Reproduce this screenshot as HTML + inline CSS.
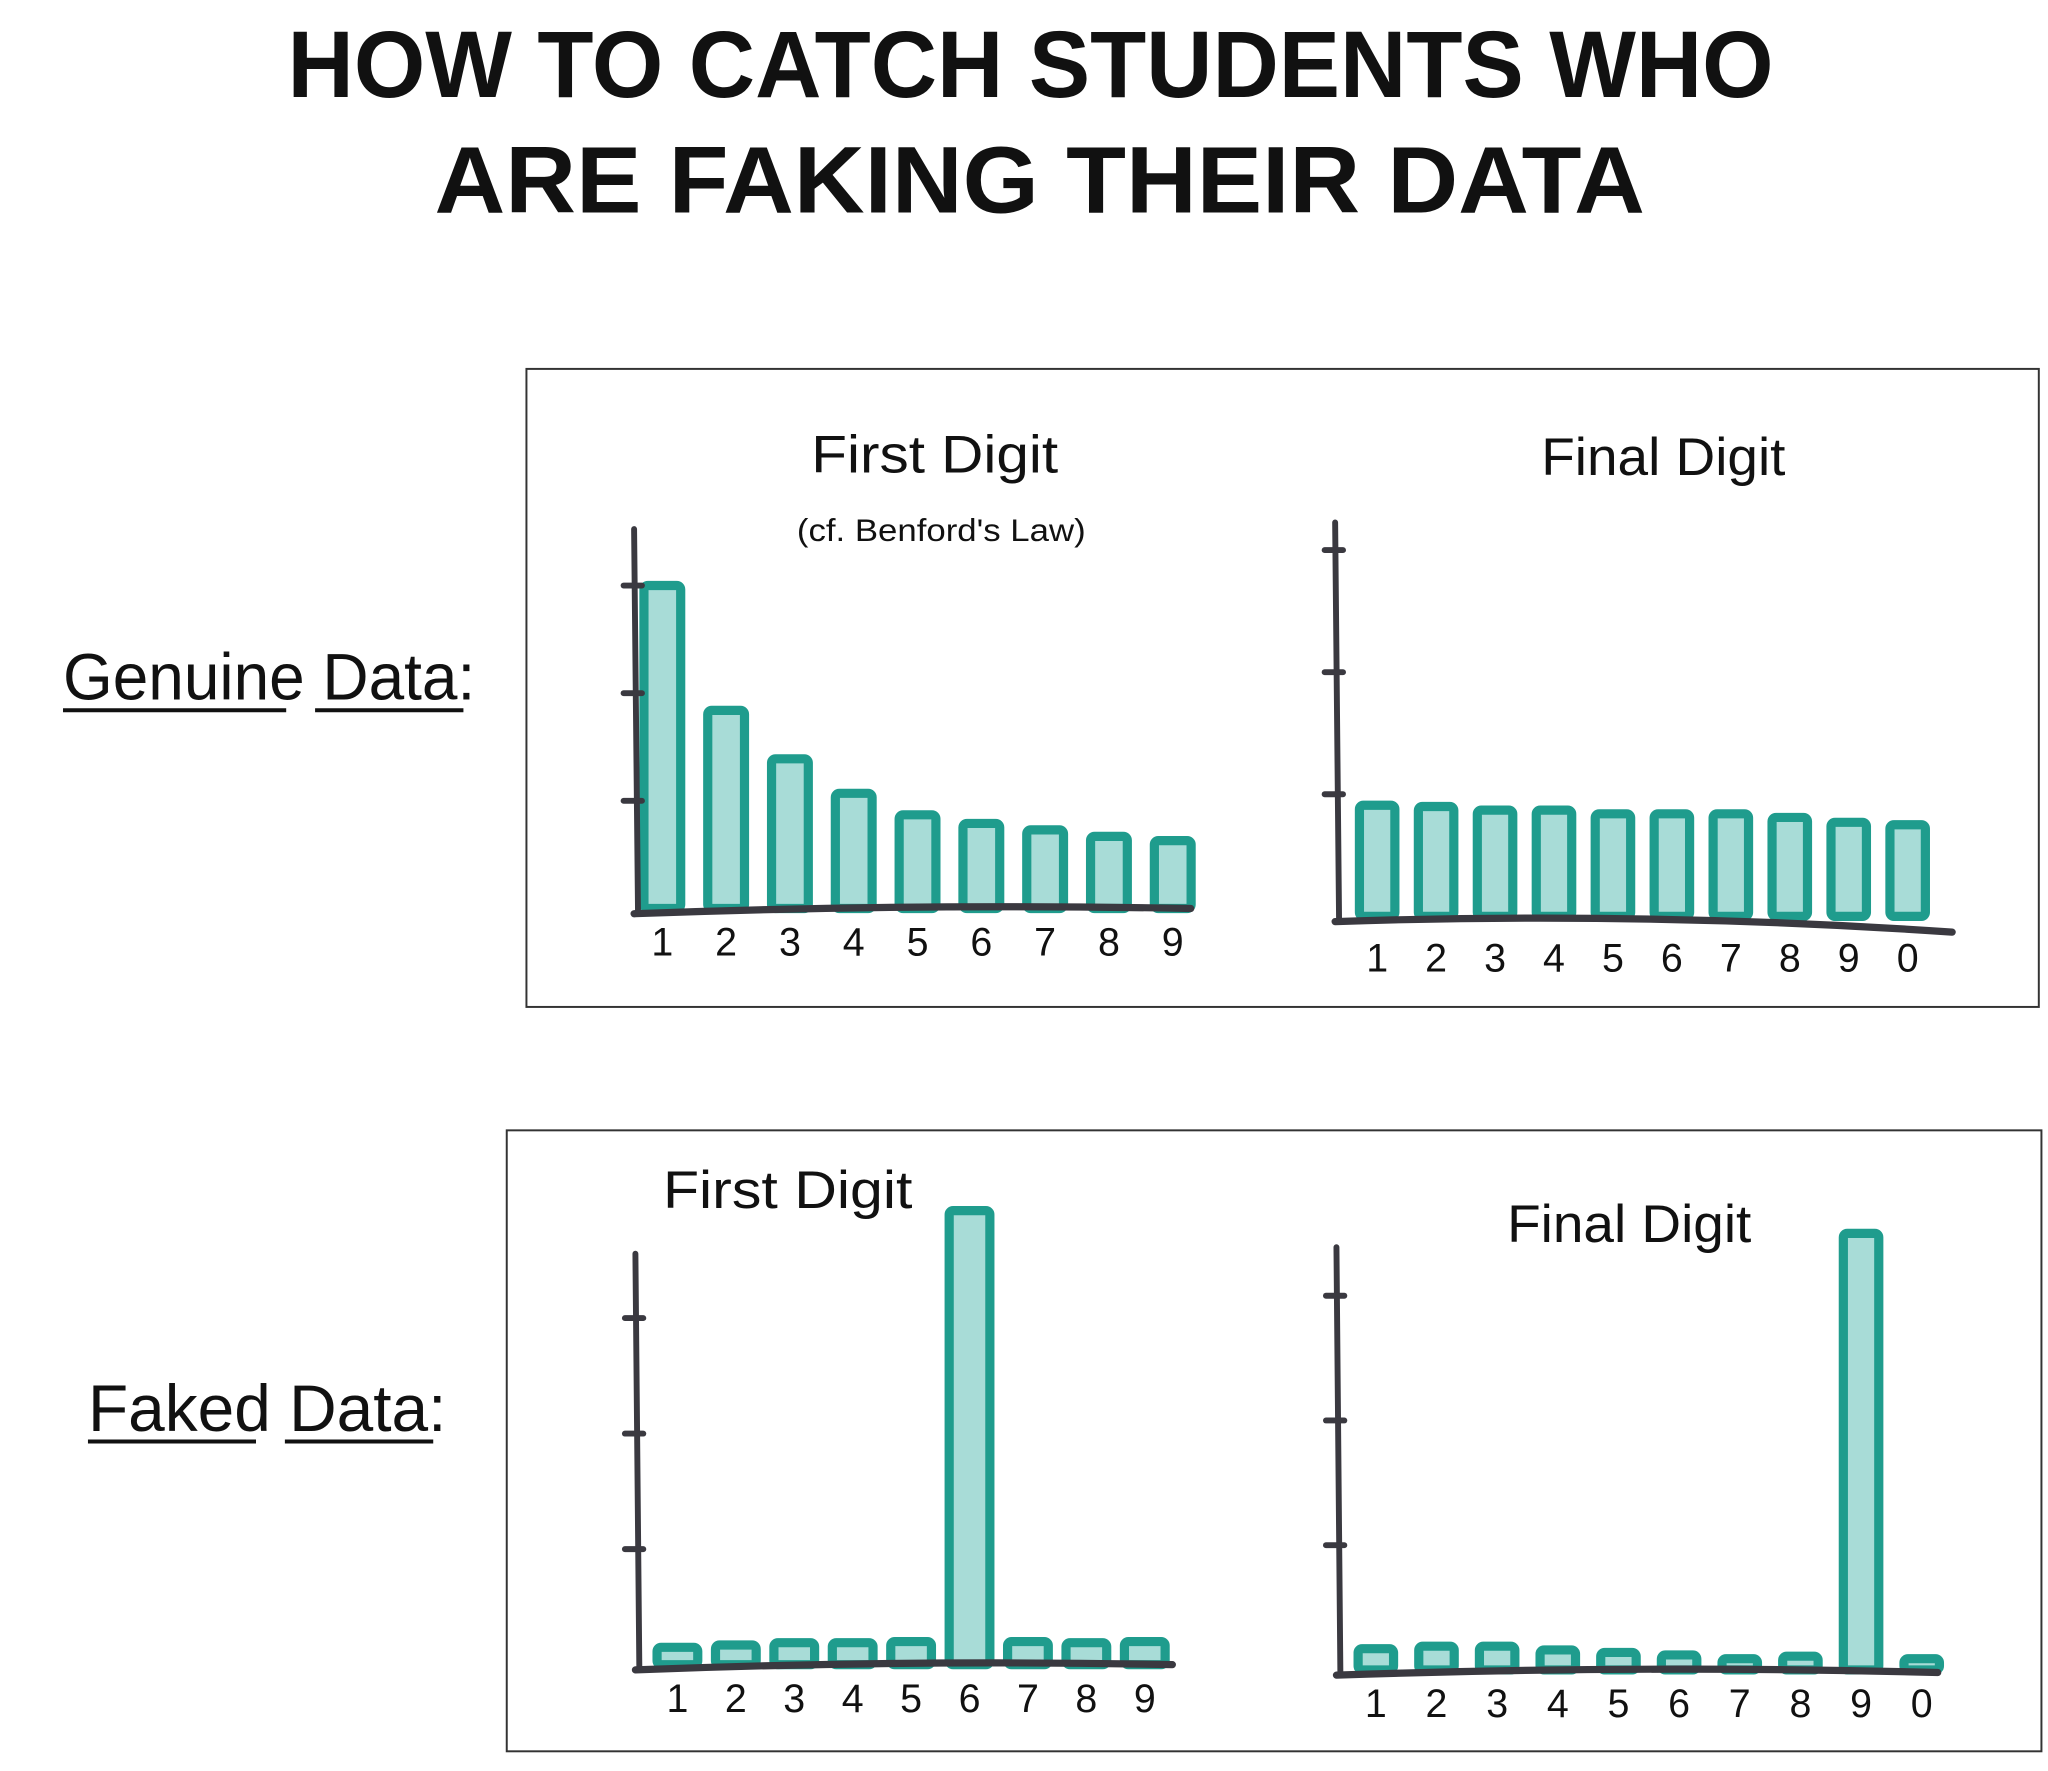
<!DOCTYPE html>
<html><head><meta charset="utf-8">
<style>
html,body{margin:0;padding:0;background:#fff;}
svg{display:block;}
text{font-family:"Liberation Sans","DejaVu Sans",sans-serif;fill:#111;}
</style></head>
<body>
<svg id="fig" width="2048" height="1771" viewBox="0 0 1560 1349" xmlns="http://www.w3.org/2000/svg">
<rect x="0" y="0" width="1560" height="1349" fill="#fff"/>
<text x="785" y="74" text-anchor="middle" font-size="72" font-weight="bold" textLength="1132" lengthAdjust="spacingAndGlyphs">HOW TO CATCH STUDENTS WHO</text>
<text x="792" y="162" text-anchor="middle" font-size="72" font-weight="bold" textLength="922" lengthAdjust="spacingAndGlyphs">ARE FAKING THEIR DATA</text>

<g>
<text x="48" y="533" font-size="50" textLength="314" lengthAdjust="spacingAndGlyphs">Genuine Data:</text>
<line x1="48" y1="541" x2="218" y2="541" stroke="#111" stroke-width="3"/>
<line x1="240" y1="541" x2="353" y2="541" stroke="#111" stroke-width="3"/>
</g>
<g>
<text x="67" y="1090" font-size="50" textLength="273" lengthAdjust="spacingAndGlyphs">Faked Data:</text>
<line x1="67" y1="1098" x2="195" y2="1098" stroke="#111" stroke-width="3"/>
<line x1="217" y1="1098" x2="330" y2="1098" stroke="#111" stroke-width="3"/>
</g>

<rect x="401" y="281" width="1152" height="486" fill="none" stroke="#333" stroke-width="1.5"/>
<rect x="386" y="861" width="1169" height="473" fill="none" stroke="#333" stroke-width="1.5"/>

<text x="712" y="360" text-anchor="middle" font-size="40" textLength="188" lengthAdjust="spacingAndGlyphs">First Digit</text>
<text x="717" y="412" text-anchor="middle" font-size="24" textLength="220" lengthAdjust="spacingAndGlyphs">(cf. Benford's Law)</text>
<text x="1267" y="362" text-anchor="middle" font-size="40" textLength="186" lengthAdjust="spacingAndGlyphs">Final Digit</text>
<text x="600" y="920" text-anchor="middle" font-size="40" textLength="190" lengthAdjust="spacingAndGlyphs">First Digit</text>
<text x="1241" y="946" text-anchor="middle" font-size="40" textLength="186" lengthAdjust="spacingAndGlyphs">Final Digit</text>
<g id="charts"></g>
</svg>
<script>
// Categories
const firstDigitCats = ["1","2","3","4","5","6","7","8","9"];
const finalDigitCats = ["1","2","3","4","5","6","7","8","9","0"];
// Series values (y-axis units, ticks at 1,2,3)
const genuineFirst = [3.0, 1.84, 1.39, 1.07, 0.87, 0.79, 0.73, 0.67, 0.63];
const genuineFinal = [0.91, 0.90, 0.87, 0.87, 0.84, 0.84, 0.84, 0.81, 0.77, 0.75];
const fakedFirst = [0.15, 0.17, 0.19, 0.19, 0.20, 3.93, 0.20, 0.19, 0.20];
const fakedFinal = [0.17, 0.19, 0.19, 0.16, 0.14, 0.12, 0.09, 0.11, 3.5, 0.09];
const tickValues = [1, 2, 3];

const NS = "http://www.w3.org/2000/svg";
const root = document.getElementById("charts");
function mk(tag, attrs, parent){
  const e = document.createElementNS(NS, tag);
  for (const k in attrs) e.setAttribute(k, attrs[k]);
  (parent || root).appendChild(e);
  return e;
}
function drawChart(name, cats, vals, cfg){
  const g = mk("g", {});
  
  
  const y = v => cfg.base - v * cfg.unit;
  const x = i => cfg.start + i * cfg.step;
  vals.forEach((v, i) => {
    const b = mk("rect", {x: x(i) + 3.5, y: y(v), width: cfg.bw - 7, height: Math.max(cfg.base - y(v), 1),
      fill: "#a8dcd7", stroke: "#1f9c8d", "stroke-width": 7, rx: 3}, g);
    
    
    const t = mk("text", {x: x(i) + cfg.bw / 2, y: cfg.labelY, "text-anchor": "middle", "font-size": 30}, g);
    t.textContent = cats[i];
    
    
  });
  const ax = mk("line", {x1: cfg.ax, y1: cfg.axTop, x2: cfg.ax + 3, y2: cfg.base + 4, stroke: "#3a3940", "stroke-width": 4.5, "stroke-linecap": "round"}, g);
  
  
  tickValues.forEach(tv => {
    const tk = mk("line", {x1: cfg.ax - 8, y1: y(tv), x2: cfg.ax + 6, y2: y(tv), stroke: "#3a3940", "stroke-width": 4.5, "stroke-linecap": "round"}, g);
    
    
  });
  const bl = mk("path", {d: "M" + cfg.ax + " " + (cfg.base + 4) + " Q " + ((cfg.ax + cfg.end) / 2) + " " + (cfg.base - 4) + " " + cfg.end + " " + (cfg.base + cfg.slope),
    fill: "none", stroke: "#3a3940", "stroke-width": 5.5, "stroke-linecap": "round"}, g);
  
  
}
drawChart("genuine-first-digit", firstDigitCats, genuineFirst,
  {base: 692, unit: 82, start: 487, step: 48.6, bw: 35, ax: 483, axTop: 403, end: 907, slope: 0, labelY: 728});
drawChart("genuine-final-digit", finalDigitCats, genuineFinal,
  {base: 698, unit: 93, start: 1032, step: 44.9, bw: 34, ax: 1017, axTop: 398, end: 1487, slope: 12, labelY: 740});
drawChart("faked-first-digit", firstDigitCats, fakedFirst,
  {base: 1268, unit: 88, start: 497, step: 44.5, bw: 38, ax: 484, axTop: 955, end: 893, slope: 0, labelY: 1304});
drawChart("faked-final-digit", finalDigitCats, fakedFinal,
  {base: 1272, unit: 95, start: 1031, step: 46.2, bw: 34, ax: 1018, axTop: 950, end: 1476, slope: 2, labelY: 1308});
</script>
</body></html>
